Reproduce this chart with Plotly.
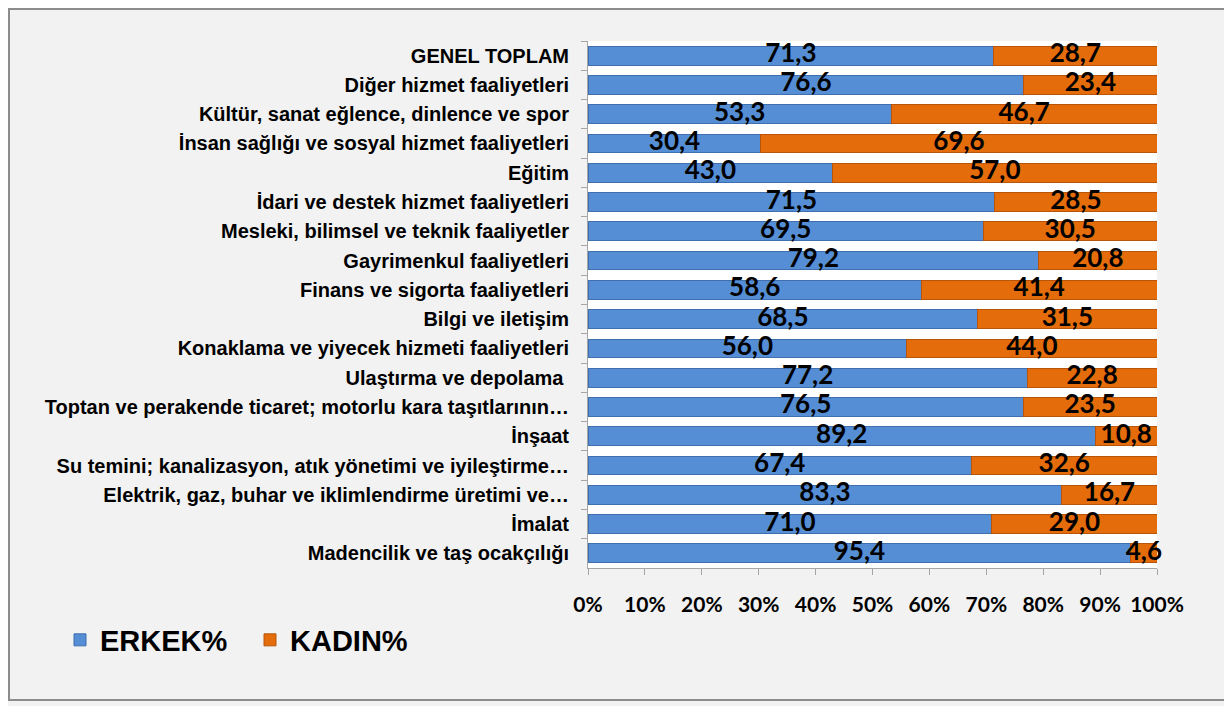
import plotly.graph_objects as go

categories = [
    "GENEL TOPLAM",
    "Diğer hizmet faaliyetleri",
    "Kültür, sanat eğlence, dinlence ve spor",
    "İnsan sağlığı ve sosyal hizmet faaliyetleri",
    "Eğitim",
    "İdari ve destek hizmet faaliyetleri",
    "Mesleki, bilimsel ve teknik faaliyetler",
    "Gayrimenkul faaliyetleri",
    "Finans ve sigorta faaliyetleri",
    "Bilgi ve iletişim",
    "Konaklama ve yiyecek hizmeti faaliyetleri",
    "Ulaştırma ve depolama ",
    "Toptan ve perakende ticaret; motorlu kara taşıtlarının…",
    "İnşaat",
    "Su temini; kanalizasyon, atık yönetimi ve iyileştirme…",
    "Elektrik, gaz, buhar ve iklimlendirme üretimi ve…",
    "İmalat",
    "Madencilik ve taş ocakçılığı",
]
erkek = [71.3, 76.6, 53.3, 30.4, 43.0, 71.5, 69.5, 79.2, 58.6, 68.5, 56.0, 77.2, 76.5, 89.2, 67.4, 83.3, 71.0, 95.4]
kadin = [28.7, 23.4, 46.7, 69.6, 57.0, 28.5, 30.5, 20.8, 41.4, 31.5, 44.0, 22.8, 23.5, 10.8, 32.6, 16.7, 29.0, 4.6]
tick_vals = [0, 10, 20, 30, 40, 50, 60, 70, 80, 90, 100]
tick_text = ["0%", "10%", "20%", "30%", "40%", "50%", "60%", "70%", "80%", "90%", "100%"]

BLUE = "#558ed5"
BLUE_EDGE = "#3f6fae"
ORANGE = "#e46c0a"
ORANGE_EDGE = "#b85508"

def fmt(v):
    return f"{v:.1f}".replace(".", ",")

fig = go.Figure()
fig.add_trace(go.Bar(
    y=categories, x=erkek, orientation="h", name="ERKEK%",
    marker=dict(color=BLUE, line=dict(color=BLUE_EDGE, width=1)),
    hoverinfo="x+y",
))
fig.add_trace(go.Bar(
    y=categories, x=kadin, orientation="h", name="KADIN%",
    marker=dict(color=ORANGE, line=dict(color=ORANGE_EDGE, width=1)),
    hoverinfo="x+y",
))

label_font = dict(family="Lato, Open Sans, sans-serif", size=26, color="black", weight="bold")
fig.add_trace(go.Scatter(
    y=categories, x=[e / 2 for e in erkek], mode="text",
    text=[fmt(v) for v in erkek], textposition="middle center",
    textfont=label_font, showlegend=False, hoverinfo="skip", cliponaxis=False,
))
fig.add_trace(go.Scatter(
    y=categories, x=[e + k / 2 for e, k in zip(erkek, kadin)], mode="text",
    text=[fmt(v) for v in kadin], textposition="middle center",
    textfont=label_font, showlegend=False, hoverinfo="skip", cliponaxis=False,
))

# page has an 8px body margin; figure is sized/offset to compensate
OFF = 8
W, H = 1232 - OFF, 706 - OFF
L, R, T, B = 588 - OFF, 75, 41 - OFF, 138
pw = W - L - R
ph = H - T - B

def px_to_paper_x(px):
    return (px - OFF - L) / pw

def px_to_paper_y(py):
    return (H - B - (py - OFF)) / ph

n = len(categories)

fig.update_layout(
    width=W, height=H,
    barmode="stack", bargap=0.36,
    paper_bgcolor="#f2f2f2", plot_bgcolor="white",
    margin=dict(l=L, r=R, t=T, b=B, pad=0, autoexpand=False),
    font=dict(family="Liberation Sans, Arial, sans-serif", color="black"),
    xaxis=dict(
        range=[0, 100], tickvals=tick_vals, ticktext=tick_text,
        showgrid=False, zeroline=False,
        showline=True, linecolor="#a6a6a6", linewidth=1,
        ticks="outside", ticklen=6, tickcolor="#a6a6a6",
        tickfont=dict(family="Lato, Open Sans, sans-serif", size=21, color="black", weight="bold"),
        ticklabelstandoff=12,
        fixedrange=True,
    ),
    yaxis=dict(
        type="category", autorange=False, range=[n - 0.5, -0.5],
        showgrid=False, zeroline=False,
        showline=True, linecolor="#a6a6a6", linewidth=1,
        ticks="outside", ticklen=6, tickcolor="#a6a6a6", tickson="boundaries",
        tickfont=dict(family="Liberation Sans, Arial, sans-serif", size=20, color="black", weight="bold"),
        ticklabelstandoff=14,
        fixedrange=True,
    ),
    legend=dict(
        orientation="h", traceorder="normal",
        x=px_to_paper_x(60), xanchor="left",
        y=px_to_paper_y(640), yanchor="middle",
        font=dict(family="Liberation Sans, Arial, sans-serif", size=29, color="black", weight="bold"),
        bgcolor="rgba(0,0,0,0)",
        entrywidth=145, entrywidthmode="pixels",
        itemclick=False, itemdoubleclick=False,
    ),
    shapes=[dict(
        type="rect", xref="paper", yref="paper",
        x0=px_to_paper_x(9), x1=px_to_paper_x(1227),
        y0=px_to_paper_y(700), y1=px_to_paper_y(9),
        line=dict(color="#8c8c8c", width=2), fillcolor="rgba(0,0,0,0)", layer="below",
    )],
    showlegend=True,
)

fig.write_html("out.html")
